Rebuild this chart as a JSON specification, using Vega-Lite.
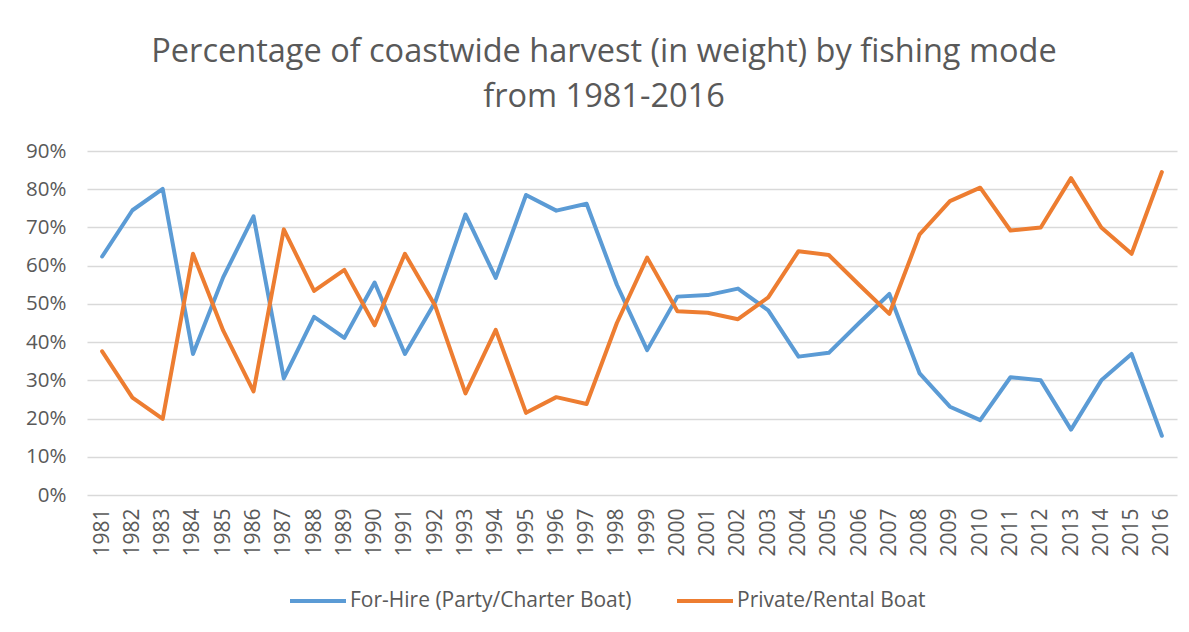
{
  "$schema": "https://vega.github.io/schema/vega-lite/v6.json",
  "width": 1090,
  "height": 344,
  "autosize": {"type": "none"},
  "padding": {"left": 87, "top": 151, "right": 12, "bottom": 137},
  "background": "white",
  "title": {
    "text": ["Percentage of coastwide harvest (in weight) by fishing mode", "from 1981-2016"],
    "font": "Open Sans",
    "fontSize": 32.5,
    "fontWeight": "normal",
    "color": "#595959",
    "anchor": "middle",
    "dx": -28,
    "offset": 28,
    "lineHeight": 45
  },
  "config": {
    "view": {"stroke": null},
    "font": "Open Sans"
  },
  "data": {
    "values": [
      {"year": "1981", "mode": "For-Hire (Party/Charter Boat)", "value": 0.624},
      {"year": "1982", "mode": "For-Hire (Party/Charter Boat)", "value": 0.745},
      {"year": "1983", "mode": "For-Hire (Party/Charter Boat)", "value": 0.801},
      {"year": "1984", "mode": "For-Hire (Party/Charter Boat)", "value": 0.369},
      {"year": "1985", "mode": "For-Hire (Party/Charter Boat)", "value": 0.570},
      {"year": "1986", "mode": "For-Hire (Party/Charter Boat)", "value": 0.729},
      {"year": "1987", "mode": "For-Hire (Party/Charter Boat)", "value": 0.305},
      {"year": "1988", "mode": "For-Hire (Party/Charter Boat)", "value": 0.466},
      {"year": "1989", "mode": "For-Hire (Party/Charter Boat)", "value": 0.411},
      {"year": "1990", "mode": "For-Hire (Party/Charter Boat)", "value": 0.556},
      {"year": "1991", "mode": "For-Hire (Party/Charter Boat)", "value": 0.369},
      {"year": "1992", "mode": "For-Hire (Party/Charter Boat)", "value": 0.505},
      {"year": "1993", "mode": "For-Hire (Party/Charter Boat)", "value": 0.734},
      {"year": "1994", "mode": "For-Hire (Party/Charter Boat)", "value": 0.568},
      {"year": "1995", "mode": "For-Hire (Party/Charter Boat)", "value": 0.785},
      {"year": "1996", "mode": "For-Hire (Party/Charter Boat)", "value": 0.744},
      {"year": "1997", "mode": "For-Hire (Party/Charter Boat)", "value": 0.762},
      {"year": "1998", "mode": "For-Hire (Party/Charter Boat)", "value": 0.550},
      {"year": "1999", "mode": "For-Hire (Party/Charter Boat)", "value": 0.379},
      {"year": "2000", "mode": "For-Hire (Party/Charter Boat)", "value": 0.519},
      {"year": "2001", "mode": "For-Hire (Party/Charter Boat)", "value": 0.523},
      {"year": "2002", "mode": "For-Hire (Party/Charter Boat)", "value": 0.540},
      {"year": "2003", "mode": "For-Hire (Party/Charter Boat)", "value": 0.483},
      {"year": "2004", "mode": "For-Hire (Party/Charter Boat)", "value": 0.362},
      {"year": "2005", "mode": "For-Hire (Party/Charter Boat)", "value": 0.372},
      {"year": "2006", "mode": "For-Hire (Party/Charter Boat)", "value": 0.450},
      {"year": "2007", "mode": "For-Hire (Party/Charter Boat)", "value": 0.526},
      {"year": "2008", "mode": "For-Hire (Party/Charter Boat)", "value": 0.318},
      {"year": "2009", "mode": "For-Hire (Party/Charter Boat)", "value": 0.231},
      {"year": "2010", "mode": "For-Hire (Party/Charter Boat)", "value": 0.196},
      {"year": "2011", "mode": "For-Hire (Party/Charter Boat)", "value": 0.308},
      {"year": "2012", "mode": "For-Hire (Party/Charter Boat)", "value": 0.300},
      {"year": "2013", "mode": "For-Hire (Party/Charter Boat)", "value": 0.171},
      {"year": "2014", "mode": "For-Hire (Party/Charter Boat)", "value": 0.300},
      {"year": "2015", "mode": "For-Hire (Party/Charter Boat)", "value": 0.369},
      {"year": "2016", "mode": "For-Hire (Party/Charter Boat)", "value": 0.155},
      {"year": "1981", "mode": "Private/Rental Boat", "value": 0.376},
      {"year": "1982", "mode": "Private/Rental Boat", "value": 0.255},
      {"year": "1983", "mode": "Private/Rental Boat", "value": 0.199},
      {"year": "1984", "mode": "Private/Rental Boat", "value": 0.631},
      {"year": "1985", "mode": "Private/Rental Boat", "value": 0.430},
      {"year": "1986", "mode": "Private/Rental Boat", "value": 0.271},
      {"year": "1987", "mode": "Private/Rental Boat", "value": 0.695},
      {"year": "1988", "mode": "Private/Rental Boat", "value": 0.534},
      {"year": "1989", "mode": "Private/Rental Boat", "value": 0.589},
      {"year": "1990", "mode": "Private/Rental Boat", "value": 0.444},
      {"year": "1991", "mode": "Private/Rental Boat", "value": 0.631},
      {"year": "1992", "mode": "Private/Rental Boat", "value": 0.495},
      {"year": "1993", "mode": "Private/Rental Boat", "value": 0.266},
      {"year": "1994", "mode": "Private/Rental Boat", "value": 0.432},
      {"year": "1995", "mode": "Private/Rental Boat", "value": 0.215},
      {"year": "1996", "mode": "Private/Rental Boat", "value": 0.256},
      {"year": "1997", "mode": "Private/Rental Boat", "value": 0.238},
      {"year": "1998", "mode": "Private/Rental Boat", "value": 0.450},
      {"year": "1999", "mode": "Private/Rental Boat", "value": 0.621},
      {"year": "2000", "mode": "Private/Rental Boat", "value": 0.481},
      {"year": "2001", "mode": "Private/Rental Boat", "value": 0.477},
      {"year": "2002", "mode": "Private/Rental Boat", "value": 0.460},
      {"year": "2003", "mode": "Private/Rental Boat", "value": 0.517},
      {"year": "2004", "mode": "Private/Rental Boat", "value": 0.638},
      {"year": "2005", "mode": "Private/Rental Boat", "value": 0.628},
      {"year": "2006", "mode": "Private/Rental Boat", "value": 0.550},
      {"year": "2007", "mode": "Private/Rental Boat", "value": 0.474},
      {"year": "2008", "mode": "Private/Rental Boat", "value": 0.682},
      {"year": "2009", "mode": "Private/Rental Boat", "value": 0.769},
      {"year": "2010", "mode": "Private/Rental Boat", "value": 0.804},
      {"year": "2011", "mode": "Private/Rental Boat", "value": 0.692},
      {"year": "2012", "mode": "Private/Rental Boat", "value": 0.700},
      {"year": "2013", "mode": "Private/Rental Boat", "value": 0.829},
      {"year": "2014", "mode": "Private/Rental Boat", "value": 0.700},
      {"year": "2015", "mode": "Private/Rental Boat", "value": 0.631},
      {"year": "2016", "mode": "Private/Rental Boat", "value": 0.845}
    ]
  },
  "mark": {"type": "line", "strokeWidth": 4, "strokeJoin": "round", "strokeCap": "round"},
  "encoding": {
    "x": {
      "field": "year",
      "type": "ordinal",
      "axis": {
        "title": null,
        "labelAngle": -90,
        "labelFontSize": 21,
        "labelColor": "#595959",
        "labelPadding": 13,
        "domain": false,
        "ticks": false,
        "grid": false
      }
    },
    "y": {
      "field": "value",
      "type": "quantitative",
      "scale": {"domain": [0, 0.9], "nice": false},
      "axis": {
        "title": null,
        "format": ".0%",
        "values": [0, 0.1, 0.2, 0.3, 0.4, 0.5, 0.6, 0.7, 0.8, 0.9],
        "labelFontSize": 20.5,
        "labelColor": "#595959",
        "labelPadding": 21,
        "domain": false,
        "ticks": false,
        "gridColor": "#d9d9d9",
        "gridWidth": 1.3
      }
    },
    "color": {
      "field": "mode",
      "type": "nominal",
      "scale": {
        "domain": ["For-Hire (Party/Charter Boat)", "Private/Rental Boat"],
        "range": ["#5B9BD5", "#ED7D31"]
      },
      "legend": {
        "title": null,
        "orient": "none",
        "direction": "horizontal",
        "legendX": 201,
        "legendY": 420,
        "symbolType": "stroke",
        "symbolSize": 3136,
        "symbolStrokeWidth": 4,
        "labelFontSize": 21,
        "labelColor": "#595959",
        "labelOffset": 2,
        "labelLimit": 600,
        "columnPadding": 37
      }
    }
  }
}
